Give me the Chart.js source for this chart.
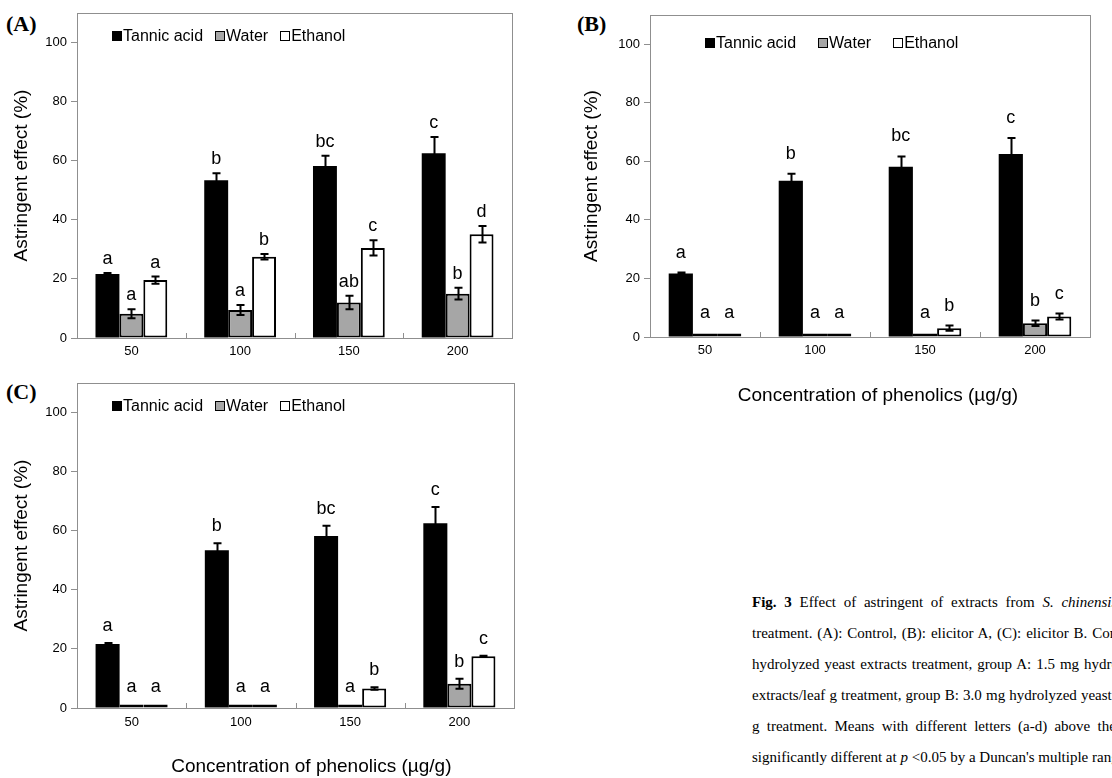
<!DOCTYPE html>
<html>
<head>
<meta charset="utf-8">
<script src="https://cdn.jsdelivr.net/npm/chart.js@4.4.1/dist/chart.umd.min.js"></script>
<style>
    html, body { margin: 0; padding: 0; background: #fff; }
    body { width: 1112px; height: 778px; overflow: hidden; position: relative; }
    canvas { position: absolute; }
    .tag { position: absolute; font: bold 22px "Liberation Serif", serif; color: #000; }
    .legend { position: absolute; display: flex; align-items: center; white-space: nowrap;
              font: 16px "Liberation Sans", Arial, sans-serif; color: #000; }
    .legend .box { display: inline-block; width: 8px; height: 8px; border: 1px solid #000; margin-right: 1px; }
    .legend .item { display: flex; align-items: center; }
    #caption { position: absolute; left: 752px; top: 590px; width: 420px;
               font: 15px "Liberation Serif", serif; color: #000; }
    #caption div { height: 31px; line-height: 24px; white-space: nowrap; }
</style>
</head>
<body>
<div class="tag" style="left:6px;top:11px">(A)</div>
<div class="tag" style="left:577px;top:11px">(B)</div>
<div class="tag" style="left:6px;top:379px">(C)</div>

<canvas id="chartA" width="570" height="370" style="left:0;top:0"></canvas>
<canvas id="chartB" width="560" height="420" style="left:560px;top:0"></canvas>
<canvas id="chartC" width="570" height="408" style="left:0;top:370px"></canvas>

<div class="legend" id="legendA" style="left:112px;top:27px" data-gap="12"></div>
<div class="legend" id="legendB" style="left:705px;top:34px" data-gap="22"></div>
<div class="legend" id="legendC" style="left:112px;top:397px" data-gap="12"></div>

<div id="caption">
    <div style="word-spacing:4px"><b>Fig. 3</b> Effect of astringent of extracts from <i>S. chinensis</i></div>
    <div style="word-spacing:1.2px">treatment. (A): Control, (B): elicitor A, (C): elicitor B. Control:</div>
    <div style="word-spacing:1.2px">hydrolyzed yeast extracts treatment, group A: 1.5 mg hydrolyzed</div>
    <div style="word-spacing:0.4px">extracts/leaf g treatment, group B: 3.0 mg hydrolyzed yeast</div>
    <div style="word-spacing:3.5px">g treatment. Means with different letters (a-d) above the</div>
    <div>significantly different at <i>p</i> &lt;0.05 by a Duncan's multiple range</div>
</div>

<script>
// concentrations of phenolics (ug/g)
const categories = ['50', '100', '150', '200'];
const seriesNames = ['Tannic acid', 'Water', 'Ethanol'];
const seriesColors = ['#000000', '#a6a6a6', '#ffffff'];

// tannic acid reference is the same in every panel
const tannic = [21.7, 53.4, 58.2, 62.5];
const tannicErr = [0.3, 2.4, 3.5, 5.5];
const tannicLetters = ['a', 'b', 'bc', 'c'];

// (A) control
const waterA = [8.2, 9.5, 12.0, 15.0];
const waterErrA = [1.5, 1.7, 2.3, 2.0];
const waterLettersA = ['a', 'a', 'ab', 'b'];
const ethanolA = [19.6, 27.5, 30.5, 35.1];
const ethanolErrA = [1.2, 0.9, 2.6, 2.8];
const ethanolLettersA = ['a', 'b', 'c', 'd'];

// (B) elicitor A
const waterB = [1.2, 1.2, 1.2, 4.7];
const waterErrB = [0, 0, 0, 0.9];
const waterLettersB = ['a', 'a', 'a', 'b'];
const ethanolB = [1.2, 1.2, 3.0, 7.0];
const ethanolErrB = [0, 0, 0.9, 1.0];
const ethanolLettersB = ['a', 'a', 'b', 'c'];

// (C) elicitor B
const waterC = [1.2, 1.2, 1.2, 8.2];
const waterErrC = [0, 0, 0, 1.7];
const waterLettersC = ['a', 'a', 'a', 'b'];
const ethanolC = [1.2, 1.2, 6.6, 17.5];
const ethanolErrC = [0, 0, 0.4, 0.2];
const ethanolLettersC = ['a', 'a', 'b', 'c'];

const yTicksMax = 100;
const yMax = 110;
const xTitleText = 'Concentration of phenolics (\u00b5g/g)';

// frame, small category ticks, error bars and the significance letters
const decorPlugin = {
    id: 'decor',
    beforeDatasetsDraw(chart) {
        const ctx = chart.ctx;
        const area = chart.chartArea;
        const xs = chart.scales.x;
        ctx.save();
        ctx.strokeStyle = '#8f8f8f';
        ctx.lineWidth = 1;
        ctx.strokeRect(Math.round(area.left) + 0.5, Math.round(area.top) + 0.5,
            Math.round(area.right - area.left), Math.round(area.bottom - area.top));
        for (let i = 1; i < categories.length; i++) {
            const bx = Math.round((xs.getPixelForValue(i - 1) + xs.getPixelForValue(i)) / 2) + 0.5;
            ctx.beginPath();
            ctx.moveTo(bx, area.bottom);
            ctx.lineTo(bx, area.bottom - 5);
            ctx.stroke();
        }
        ctx.restore();
    },
    afterDatasetsDraw(chart, args, opts) {
        const ctx = chart.ctx;
        const ys = chart.scales.y;
        ctx.save();
        chart.data.datasets.forEach((ds, di) => {
            const meta = chart.getDatasetMeta(di);
            meta.data.forEach((bar, i) => {
                const v = ds.data[i];
                const e = ds.errors[i];
                const x = Math.round(bar.x) + 0.5;
                if (e > 0) {
                    const yTop = ys.getPixelForValue(v + e);
                    const yBot = ys.getPixelForValue(v - e);
                    ctx.strokeStyle = '#000';
                    ctx.lineWidth = 2;
                    ctx.beginPath();
                    ctx.moveTo(x, yTop);
                    ctx.lineTo(x, yBot);
                    ctx.moveTo(x - 4, yTop);
                    ctx.lineTo(x + 4, yTop);
                    ctx.moveTo(x - 4, yBot);
                    ctx.lineTo(x + 4, yBot);
                    ctx.stroke();
                }
                ctx.fillStyle = '#000';
                ctx.font = '18px "Liberation Sans", Arial, sans-serif';
                ctx.textAlign = 'center';
                ctx.textBaseline = 'alphabetic';
                ctx.fillText(ds.letters[i], bar.x, ys.getPixelForValue(v + e) - opts.gap);
            });
        });
        ctx.restore();
    }
};

function buildLegend(id) {
    const box = document.getElementById(id);
    const gap = box.dataset.gap + 'px';
    seriesNames.forEach((name, i) => {
        const item = document.createElement('span');
        item.className = 'item';
        item.style.marginRight = gap;
        item.innerHTML = '<span class="box" style="background:' + seriesColors[i] + '"></span>' + name;
        box.appendChild(item);
    });
}

function createPanel(canvasId, water, waterErr, waterLetters, ethanol, ethanolErr, ethanolLetters, layout) {
    const ctx = document.getElementById(canvasId).getContext('2d');
    const barStyle = {
        borderColor: '#000',
        borderWidth: 2,
        borderSkipped: false,
        categoryPercentage: 0.66,
        barPercentage: 1.0
    };
    return new Chart(ctx, {
        type: 'bar',
        data: {
            labels: categories,
            datasets: [
                Object.assign({ label: seriesNames[0], data: tannic, errors: tannicErr, letters: tannicLetters,
                    backgroundColor: seriesColors[0] }, barStyle, { borderWidth: 0 }),
                Object.assign({ label: seriesNames[1], data: water, errors: waterErr, letters: waterLetters,
                    backgroundColor: seriesColors[1] }, barStyle),
                Object.assign({ label: seriesNames[2], data: ethanol, errors: ethanolErr, letters: ethanolLetters,
                    backgroundColor: seriesColors[2] }, barStyle)
            ]
        },
        options: {
            responsive: false,
            animation: false,
            devicePixelRatio: 1,
            layout: { padding: { left: 0, top: layout.top, right: layout.right, bottom: 0 } },
            plugins: {
                legend: { display: false },
                tooltip: { enabled: false },
                decor: { gap: layout.gap }
            },
            scales: {
                x: {
                    grid: { display: false, drawTicks: false },
                    border: { display: false },
                    ticks: { color: '#000', padding: layout.xPad, font: { size: 13, family: '"Liberation Sans", Arial, sans-serif' } },
                    title: {
                        display: layout.xTitle,
                        text: '\u00a0'.repeat(layout.xTitleShift) + xTitleText,
                        color: '#000',
                        font: { size: 19, family: '"Liberation Sans", Arial, sans-serif' },
                        padding: { top: 0, bottom: layout.xTitlePad }
                    },
                    afterFit: function(scale) { scale.height = layout.xHeight; }
                },
                y: {
                    min: 0,
                    max: yMax,
                    grid: { drawOnChartArea: false, drawTicks: true, tickLength: 6, color: '#8f8f8f' },
                    border: { display: false },
                    ticks: { stepSize: 20, color: '#000', padding: 4, font: { size: 13, family: '"Liberation Sans", Arial, sans-serif' } },
                    afterBuildTicks: function(scale) {
                        scale.ticks = scale.ticks.filter(t => t.value <= yTicksMax);
                    },
                    title: {
                        display: true,
                        text: 'Astringent effect (%)',
                        color: '#000',
                        font: { size: 19, family: '"Liberation Sans", Arial, sans-serif' },
                        padding: { top: layout.yTitlePad, bottom: 0 }
                    },
                    afterFit: function(scale) { scale.width = layout.yWidth; }
                }
            }
        },
        plugins: [decorPlugin]
    });
}

document.addEventListener('DOMContentLoaded', function() {
    buildLegend('legendA');
    buildLegend('legendB');
    buildLegend('legendC');
    createPanel('chartA', waterA, waterErrA, waterLettersA, ethanolA, ethanolErrA, ethanolLettersA,
        { top: 13, right: 58, yWidth: 77, xHeight: 32, xPad: 6, xTitle: false, xTitleShift: 0, xTitlePad: 0, yTitlePad: 10, gap: 9 });
    createPanel('chartB', waterB, waterErrB, waterLettersB, ethanolB, ethanolErrB, ethanolLettersB,
        { top: 15, right: 30, yWidth: 90, xHeight: 83, xPad: 6, xTitle: true, xTitleShift: 3, xTitlePad: 13, yTitlePad: 20, gap: 15 });
    createPanel('chartC', waterC, waterErrC, waterLettersC, ethanolC, ethanolErrC, ethanolLettersC,
        { top: 13, right: 56, yWidth: 77, xHeight: 70, xPad: 7, xTitle: true, xTitleShift: 6, xTitlePad: 0, yTitlePad: 10, gap: 12 });
});
</script>
</body>
</html>
